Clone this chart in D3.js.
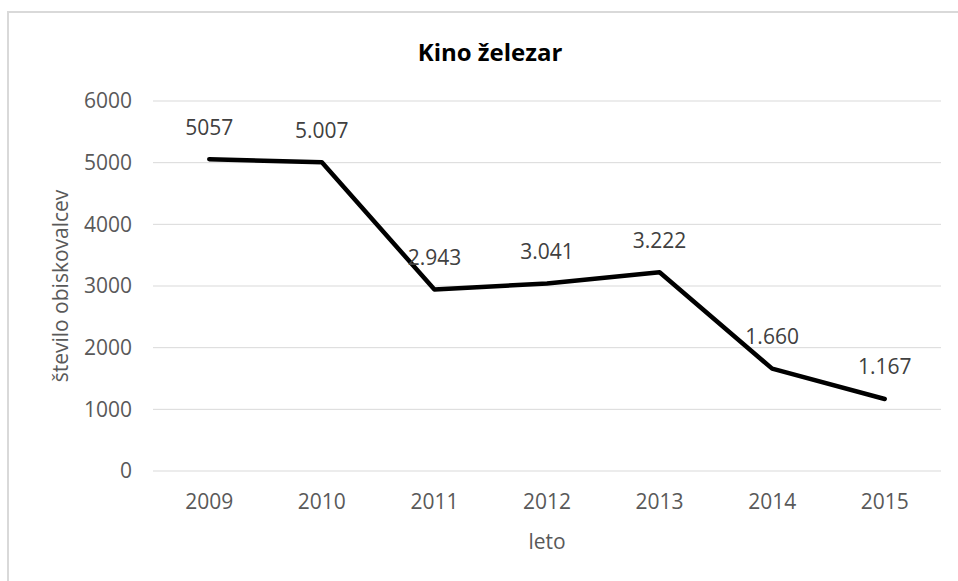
<!DOCTYPE html>
<html>
<head>
<meta charset="utf-8">
<script src="https://cdn.jsdelivr.net/npm/d3@7"></script>
<style>
    body { margin: 0; background: #fff; }
    svg text { font-family: "Open Sans", "DejaVu Sans", sans-serif; }
</style>
</head>
<body>
<div id="chart"></div>
<script>
// data
let years = ["2009", "2010", "2011", "2012", "2013", "2014", "2015"];
let visitors = [5057, 5007, 2943, 3041, 3222, 1660, 1167];
let valueLabels = ["5057", "5.007", "2.943", "3.041", "3.222", "1.660", "1.167"];
let yTicks = [0, 1000, 2000, 3000, 4000, 5000, 6000];

let width = 958, height = 581;
let margin = { top: 101, right: 17, bottom: 110, left: 153 };
let innerW = width - margin.left - margin.right;
let innerH = height - margin.top - margin.bottom;

let svg = d3.select("#chart").append("svg")
    .attr("width", width)
    .attr("height", height);

// chart frame
svg.append("rect")
    .attr("x", 8)
    .attr("y", 12)
    .attr("width", width)
    .attr("height", height)
    .attr("fill", "#fff")
    .attr("stroke", "#d9d9d9")
    .attr("stroke-width", 2);

let g = svg.append("g")
    .attr("transform", "translate(" + margin.left + "," + margin.top + ")");

let x = d3.scaleBand()
    .domain(years)
    .range([0, innerW]);

let y = d3.scaleLinear()
    .domain([0, 6000])
    .range([innerH, 0]);

// gridlines
g.selectAll(".grid")
    .data(yTicks)
    .enter()
    .append("line")
    .attr("class", "grid")
    .attr("x1", 0)
    .attr("x2", innerW)
    .attr("y1", d => y(d))
    .attr("y2", d => y(d))
    .attr("stroke", "#d9d9d9")
    .attr("stroke-width", 1);

// y axis
let yAxis = g.append("g")
    .call(d3.axisLeft(y).tickValues(yTicks).tickSize(0).tickPadding(21).tickFormat(d3.format("d")));
yAxis.select(".domain").remove();
yAxis.selectAll("text")
    .attr("fill", "#595959")
    .style("font-size", "21px");

// x axis
let xAxis = g.append("g")
    .attr("transform", "translate(0," + innerH + ")")
    .call(d3.axisBottom(x).tickSize(0).tickPadding(23));
xAxis.select(".domain").remove();
xAxis.selectAll("text")
    .attr("fill", "#595959")
    .style("font-size", "21px");

// line
let line = d3.line()
    .x((d, i) => x(years[i]) + x.bandwidth() / 2)
    .y(d => y(d));

g.append("path")
    .datum(visitors)
    .attr("d", line)
    .attr("fill", "none")
    .attr("stroke", "#000")
    .attr("stroke-width", 4.5)
    .attr("stroke-linejoin", "round")
    .attr("stroke-linecap", "round");

// value labels
g.selectAll(".val")
    .data(visitors)
    .enter()
    .append("text")
    .attr("class", "val")
    .attr("x", (d, i) => x(years[i]) + x.bandwidth() / 2)
    .attr("y", d => y(d) - 32)
    .attr("dy", "0.35em")
    .attr("text-anchor", "middle")
    .attr("fill", "#404040")
    .style("font-size", "21px")
    .text((d, i) => valueLabels[i]);

// title
svg.append("text")
    .attr("x", 490)
    .attr("y", 61)
    .attr("text-anchor", "middle")
    .attr("fill", "#000")
    .style("font-size", "24px")
    .style("font-weight", "bold")
    .text("Kino železar");

// axis titles
svg.append("text")
    .attr("x", margin.left + innerW / 2)
    .attr("y", 549)
    .attr("text-anchor", "middle")
    .attr("fill", "#595959")
    .style("font-size", "21px")
    .text("leto");

svg.append("text")
    .attr("transform", "translate(68," + (margin.top + innerH / 2) + ") rotate(-90)")
    .attr("text-anchor", "middle")
    .attr("fill", "#595959")
    .style("font-size", "21px")
    .text("število obiskovalcev");
</script>
</body>
</html>
